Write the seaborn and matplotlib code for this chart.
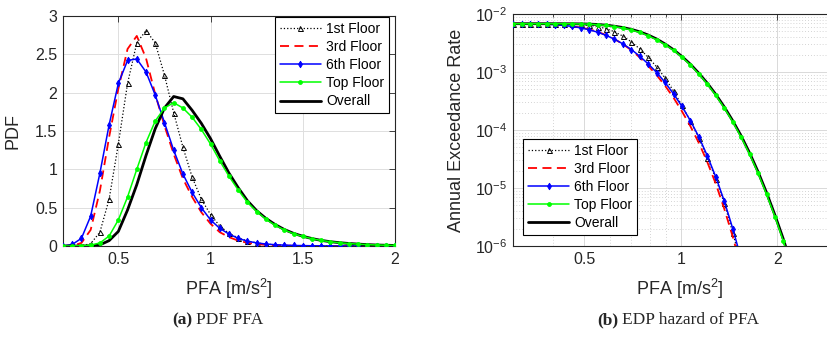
import numpy as np
import pandas as pd
import matplotlib
matplotlib.use("Agg")
import matplotlib.pyplot as plt
import matplotlib.ticker as mticker
import seaborn as sns

# ---------------- data ----------------
labels = ["1st Floor", "3rd Floor", "6th Floor", "Top Floor", "Overall"]

pdf_x = [0.20, 0.25, 0.30, 0.35, 0.40, 0.45, 0.50, 0.55, 0.60, 0.65, 0.70, 0.75,
         0.80, 0.85, 0.90, 0.95, 1.00, 1.05, 1.10, 1.15, 1.20, 1.25, 1.30, 1.35,
         1.40, 1.45, 1.50, 1.55, 1.60, 1.65, 1.70, 1.75, 1.80, 1.85, 1.90, 1.95, 2.00]

pdf_1st = [0.0, 0.0, 0.004, 0.03, 0.18, 0.61, 1.33, 2.12, 2.65, 2.81, 2.65, 2.23,
           1.74, 1.29, 0.90, 0.61, 0.41, 0.26, 0.165, 0.105, 0.066, 0.041, 0.025, 0.015,
           0.009, 0.005, 0.003, 0.002, 0.001, 0.001, 0.0, 0.0, 0.0, 0.0, 0.0, 0.0, 0.0]
pdf_3rd = [0.0, 0.003, 0.04, 0.21, 0.72, 1.42, 2.05, 2.57, 2.74, 2.45, 1.98, 1.57,
           1.20, 0.88, 0.64, 0.44, 0.29, 0.18, 0.115, 0.07, 0.042, 0.025, 0.015, 0.009,
           0.005, 0.003, 0.002, 0.001, 0.0, 0.0, 0.0, 0.0, 0.0, 0.0, 0.0, 0.0, 0.0]
pdf_6th = [0.0, 0.02, 0.10, 0.39, 0.95, 1.58, 2.12, 2.42, 2.44, 2.27, 1.97, 1.61,
           1.25, 0.94, 0.70, 0.50, 0.34, 0.23, 0.155, 0.10, 0.063, 0.04, 0.026, 0.017,
           0.011, 0.007, 0.005, 0.003, 0.002, 0.001, 0.0, 0.0, 0.0, 0.0, 0.0, 0.0, 0.0]
pdf_top = [0.0, 0.001, 0.003, 0.012, 0.04, 0.13, 0.34, 0.64, 1.00, 1.35, 1.63, 1.80,
           1.87, 1.80, 1.68, 1.52, 1.33, 1.11, 0.91, 0.73, 0.57, 0.45, 0.35, 0.27,
           0.21, 0.16, 0.125, 0.095, 0.072, 0.055, 0.042, 0.032, 0.024, 0.018, 0.013, 0.010, 0.007]
pdf_all = [0.0, 0.0, 0.0, 0.002, 0.015, 0.07, 0.19, 0.47, 0.80, 1.18, 1.53, 1.80,
           1.95, 1.92, 1.77, 1.60, 1.40, 1.17, 0.95, 0.76, 0.59, 0.46, 0.36, 0.28,
           0.215, 0.165, 0.127, 0.097, 0.073, 0.056, 0.043, 0.033, 0.025, 0.018, 0.013, 0.010, 0.007]

haz_x = [0.300, 0.319, 0.339, 0.360, 0.382, 0.406, 0.432, 0.459, 0.487, 0.518,
         0.550, 0.584, 0.621, 0.660, 0.701, 0.745, 0.791, 0.841, 0.893, 0.949,
         1.008, 1.071, 1.138, 1.209, 1.285, 1.365, 1.451, 1.541, 1.638, 1.740,
         1.849, 1.964, 2.087, 2.218, 2.356]

haz_1st = [6.80e-3, 6.80e-3, 6.80e-3, 6.80e-3, 6.80e-3, 6.79e-3, 6.77e-3, 6.71e-3, 6.60e-3, 6.40e-3,
           6.08e-3, 5.60e-3, 4.95e-3, 4.15e-3, 3.30e-3, 2.50e-3, 1.80e-3, 1.22e-3, 7.9e-4, 4.7e-4,
           2.65e-4, 1.42e-4, 7.2e-5, 3.35e-5, 1.45e-5, 5.5e-6, 1.7e-6, 4.8e-7, 1.1e-7]
haz_3rd = [6.80e-3, 6.80e-3, 6.78e-3, 6.75e-3, 6.69e-3, 6.58e-3, 6.40e-3, 6.13e-3, 5.85e-3, 5.45e-3,
           4.95e-3, 4.35e-3, 3.70e-3, 3.02e-3, 2.38e-3, 1.78e-3, 1.28e-3, 8.8e-4, 5.8e-4, 3.6e-4,
           2.1e-4, 1.16e-4, 6.0e-5, 2.8e-5, 1.18e-5, 4.4e-6, 1.45e-6, 4.2e-7, 1.0e-7]
haz_6th = [6.80e-3, 6.79e-3, 6.77e-3, 6.73e-3, 6.65e-3, 6.53e-3, 6.35e-3, 6.10e-3, 5.78e-3, 5.36e-3,
           4.86e-3, 4.30e-3, 3.68e-3, 3.05e-3, 2.44e-3, 1.87e-3, 1.38e-3, 9.8e-4, 6.6e-4, 4.2e-4,
           2.55e-4, 1.45e-4, 7.6e-5, 3.6e-5, 1.55e-5, 6.0e-6, 2.0e-6, 6.0e-7, 1.5e-7]
haz_top = [6.80e-3, 6.80e-3, 6.80e-3, 6.80e-3, 6.80e-3, 6.80e-3, 6.79e-3, 6.78e-3, 6.74e-3, 6.68e-3,
           6.56e-3, 6.34e-3, 6.06e-3, 5.72e-3, 5.30e-3, 4.80e-3, 4.22e-3, 3.60e-3, 2.96e-3, 2.36e-3,
           1.80e-3, 1.32e-3, 9.2e-4, 6.2e-4, 3.95e-4, 2.40e-4, 1.38e-4, 7.5e-5, 3.8e-5, 1.8e-5,
           7.8e-6, 3.2e-6, 1.2e-6, 4.0e-7, 1.1e-7]
haz_all = [6.80e-3, 6.80e-3, 6.80e-3, 6.80e-3, 6.80e-3, 6.80e-3, 6.79e-3, 6.78e-3, 6.75e-3, 6.70e-3,
           6.60e-3, 6.42e-3, 6.16e-3, 5.84e-3, 5.43e-3, 4.93e-3, 4.34e-3, 3.70e-3, 3.04e-3, 2.42e-3,
           1.85e-3, 1.36e-3, 9.5e-4, 6.4e-4, 4.1e-4, 2.5e-4, 1.44e-4, 7.9e-5, 4.0e-5, 1.9e-5,
           8.3e-6, 3.4e-6, 1.3e-6, 4.4e-7, 1.2e-7]

pdf_xticks = [0.5, 1, 1.5, 2]
pdf_yticks = [0, 0.5, 1, 1.5, 2, 2.5, 3]
haz_xticks = [0.5, 1, 2]
haz_yticks = [1e-6, 1e-5, 1e-4, 1e-3, 1e-2]

# ---------------- style ----------------
sns.set_theme(style="white", color_codes=False)
plt.rcParams["font.family"] = ["Liberation Sans", "DejaVu Sans"]
plt.rcParams["mathtext.fontset"] = "custom"
plt.rcParams["mathtext.rm"] = "Liberation Sans"
plt.rcParams["mathtext.it"] = "Liberation Sans:italic"
plt.rcParams["mathtext.bf"] = "Liberation Sans:bold"

AX = (0.15, 0.15, 0.15)
BLACK = (0.0, 0.0, 0.0)
RED = (1.0, 0.0, 0.0)
BLUE = (0.0, 0.0, 1.0)
GREEN = (0.0, 1.0, 0.0)

styles = [
    dict(color=BLACK, linestyle=":", linewidth=0.9, marker="^", markersize=3.6,
         markerfacecolor="none", markeredgecolor=BLACK, markeredgewidth=0.7, zorder=3),
    dict(color=RED, linestyle=(0, (5, 3)), linewidth=1.3, zorder=3),
    dict(color=BLUE, linestyle="-", linewidth=1.1, marker="d", markersize=3.4,
         markerfacecolor=BLUE, markeredgecolor=BLUE, markeredgewidth=0.6, zorder=3),
    dict(color=GREEN, linestyle="-", linewidth=1.1, marker="o", markersize=2.8,
         markerfacecolor=GREEN, markeredgecolor=GREEN, markeredgewidth=0.6, zorder=4),
    dict(color=BLACK, linestyle="-", linewidth=2.0, zorder=3.5),
]

fig = plt.figure(figsize=(8.27, 3.52), dpi=100)
ax1 = fig.add_axes([63 / 827, 1 - 246 / 352, 332 / 827, 230 / 352])
ax2 = fig.add_axes([513 / 827, 1 - 246 / 352, 321 / 827, 232 / 352])


def draw(ax, xs, series):
    for ys, lab, st in zip(series, labels, styles):
        n = len(ys)
        sns.lineplot(x=xs[:n], y=ys, ax=ax, label=lab, estimator=None, sort=False, **st)


draw(ax1, pdf_x, [pdf_1st, pdf_3rd, pdf_6th, pdf_top, pdf_all])
draw(ax2, haz_x, [haz_1st, haz_3rd, haz_6th, haz_top, haz_all])

# ---- left axes ----
ax1.set_xlim(0.2, 2.0)
ax1.set_ylim(0, 3)
ax1.set_xticks(pdf_xticks)
ax1.set_yticks(pdf_yticks)
fmt = mticker.FuncFormatter(lambda v, p: "%g" % v)
ax1.xaxis.set_major_formatter(fmt)
ax1.yaxis.set_major_formatter(fmt)
ax1.grid(True, which="major", color=(0.87, 0.87, 0.87), linewidth=0.7)
ax1.set_xlabel("PFA [m/s$^2$]", fontsize=13, color=AX)
ax1.set_ylabel("PDF", fontsize=13, color=AX)
ax1.xaxis.set_label_coords(0.5, -0.135)
ax1.yaxis.set_label_coords(-0.125, 0.5)

# ---- right axes ----
ax2.set_xscale("log")
ax2.set_yscale("log")
ax2.set_xlim(0.3, 3.0)
ax2.set_ylim(1e-6, 1e-2)
ax2.set_xticks(haz_xticks)
ax2.xaxis.set_major_formatter(fmt)
ax2.xaxis.set_minor_locator(mticker.LogLocator(base=10, subs=np.arange(2, 10)))
ax2.xaxis.set_minor_formatter(mticker.NullFormatter())
ax2.set_yticks(haz_yticks)
ax2.yaxis.set_major_formatter(mticker.LogFormatterSciNotation())
ax2.yaxis.set_minor_locator(mticker.LogLocator(base=10, subs=np.arange(2, 10)))
ax2.yaxis.set_minor_formatter(mticker.NullFormatter())
ax2.grid(True, which="major", color=(0.85, 0.85, 0.85), linewidth=0.7)
ax2.grid(True, which="minor", color=(0.78, 0.78, 0.78), linewidth=0.6, linestyle=(0, (1, 2.5)))
ax2.set_xlabel("PFA [m/s$^2$]", fontsize=13, color=AX)
ax2.set_ylabel("Annual Exceedance Rate", fontsize=13, color=AX)
ax2.xaxis.set_label_coords(0.52, -0.135)
ax2.yaxis.set_label_coords(-0.15, 0.5)

for ax in (ax1, ax2):
    ax.set_axisbelow(True)
    for s in ax.spines.values():
        s.set_visible(True)
        s.set_color(AX)
        s.set_linewidth(0.8)
    ax.tick_params(which="both", direction="in", top=True, right=True,
                   colors=AX, labelcolor=AX, labelsize=11.5, width=0.6)
    ax.tick_params(which="major", length=4, pad=4)
    ax.tick_params(which="minor", length=2.2)

leg_kw = dict(fontsize=10, frameon=True, fancybox=False, edgecolor="k",
              framealpha=1, borderpad=0.35, labelspacing=0.3, handlelength=3.0,
              handletextpad=0.35, borderaxespad=0.0)
l1 = ax1.legend(loc="upper right", bbox_to_anchor=(0.982, 0.996), **leg_kw)
l2 = ax2.legend(loc="lower left", bbox_to_anchor=(0.031, 0.047), **leg_kw)
for lg in (l1, l2):
    lg.get_frame().set_linewidth(0.8)
    for t in lg.get_texts():
        t.set_color("k")

# captions
serif = ["Liberation Serif", "DejaVu Serif"]
fig.text(192 / 827, 1 - 320 / 352, "(a)", ha="right", va="center", fontsize=12.5,
         fontweight="bold", family=serif)
fig.text(196 / 827, 1 - 320 / 352, "PDF PFA", ha="left", va="center", fontsize=12.5,
         family=serif)
fig.text(618 / 827, 1 - 320 / 352, "(b)", ha="right", va="center", fontsize=12.5,
         fontweight="bold", family=serif)
fig.text(622 / 827, 1 - 320 / 352, "EDP hazard of PFA", ha="left", va="center",
         fontsize=12.5, family=serif)

fig.savefig("out.png", dpi=100)
